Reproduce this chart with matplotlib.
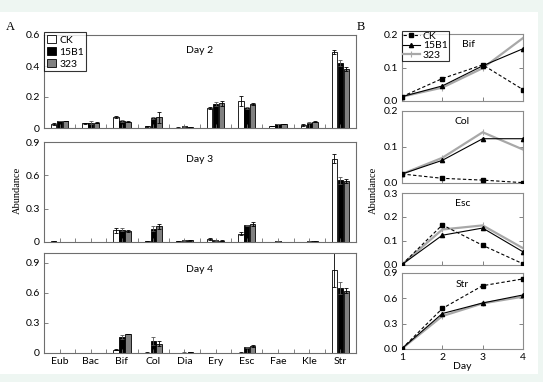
import matplotlib
matplotlib.use("Agg")
import matplotlib.pyplot as plt
from matplotlib.patches import Rectangle
import numpy as np

W, H = 543, 382

taxa = ["Eub", "Bac", "Bif", "Col", "Dia", "Ery", "Esc", "Fae", "Kle", "Str"]
groups = ["CK", "15B1", "323"]

# panel A: relative abundance per taxon (CK, 15B1, 323)
day2_ck   = [0.025, 0.030, 0.070, 0.010, 0.003, 0.130, 0.175, 0.013, 0.020, 0.490]
day2_b1   = [0.045, 0.035, 0.045, 0.065, 0.010, 0.155, 0.130, 0.025, 0.035, 0.420]
day2_323  = [0.045, 0.035, 0.040, 0.070, 0.008, 0.160, 0.155, 0.025, 0.040, 0.380]
day2_ck_err  = [0.006, 0.003, 0.006, 0.004, 0.001, 0.005, 0.030, 0.003, 0.004, 0.015]
day2_b1_err  = [0.003, 0.008, 0.004, 0.006, 0.001, 0.012, 0.005, 0.002, 0.003, 0.020]
day2_323_err = [0.003, 0.004, 0.003, 0.035, 0.001, 0.015, 0.008, 0.002, 0.002, 0.015]

day3_ck   = [0.005, 0.003, 0.105, 0.005, 0.005, 0.025, 0.075, 0.003, 0.003, 0.750]
day3_b1   = [0.003, 0.002, 0.110, 0.120, 0.015, 0.015, 0.150, 0.008, 0.005, 0.555]
day3_323  = [0.003, 0.002, 0.102, 0.140, 0.015, 0.013, 0.165, 0.003, 0.005, 0.550]
day3_ck_err  = [0.002, 0.001, 0.020, 0.002, 0.002, 0.008, 0.012, 0.001, 0.001, 0.040]
day3_b1_err  = [0.001, 0.001, 0.015, 0.020, 0.002, 0.002, 0.005, 0.002, 0.001, 0.030]
day3_323_err = [0.001, 0.001, 0.008, 0.020, 0.002, 0.002, 0.018, 0.001, 0.001, 0.015]

day4_ck   = [0.003, 0.003, 0.035, 0.005, 0.003, 0.003, 0.005, 0.003, 0.003, 0.830]
day4_b1   = [0.003, 0.003, 0.157, 0.123, 0.005, 0.003, 0.057, 0.003, 0.003, 0.650]
day4_323  = [0.003, 0.003, 0.190, 0.093, 0.008, 0.003, 0.073, 0.003, 0.003, 0.623]
day4_ck_err  = [0.001, 0.001, 0.008, 0.002, 0.001, 0.001, 0.002, 0.001, 0.001, 0.170]
day4_b1_err  = [0.001, 0.001, 0.020, 0.040, 0.001, 0.001, 0.005, 0.001, 0.001, 0.060]
day4_323_err = [0.001, 0.001, 0.003, 0.025, 0.002, 0.001, 0.012, 0.001, 0.001, 0.025]

# panel B: time course for four taxa
days = [1, 2, 3, 4]
bif_ck  = [0.013, 0.067, 0.108, 0.034]
bif_b1  = [0.013, 0.045, 0.105, 0.156]
bif_323 = [0.013, 0.040, 0.098, 0.188]
col_ck  = [0.025, 0.013, 0.008, 0.001]
col_b1  = [0.025, 0.063, 0.123, 0.123]
col_323 = [0.025, 0.070, 0.141, 0.093]
esc_ck  = [0.002, 0.167, 0.082, 0.005]
esc_b1  = [0.002, 0.124, 0.154, 0.055]
esc_323 = [0.002, 0.148, 0.165, 0.070]
str_ck  = [0.005, 0.480, 0.750, 0.830]
str_b1  = [0.005, 0.420, 0.545, 0.640]
str_323 = [0.005, 0.390, 0.540, 0.620]

tick_font = "Lato"
serif_font = "Liberation Serif"
spine_col = "#6e6e6e"


def add_ax(fig, left, top, right, bottom):
    return fig.add_axes([left / W, 1 - bottom / H, (right - left) / W, (bottom - top) / H])


def style(ax):
    for s in ax.spines.values():
        s.set_color(spine_col)
        s.set_linewidth(0.8)
    ax.tick_params(direction="in", length=3, width=0.6, color=spine_col,
                   labelsize=7.5, pad=3)
    for lab in ax.get_xticklabels() + ax.get_yticklabels():
        lab.set_fontfamily(tick_font)


fig = plt.figure(figsize=(W / 100, H / 100), dpi=100)
fig.patch.set_facecolor("#eef6f2")
fig.patches.append(Rectangle((0, 8 / H), 538 / W, (372 - 10) / H,
                             transform=fig.transFigure, facecolor="white",
                             edgecolor="none", zorder=-10))

# ---------- A ----------
panelsA = [
    ("Day 2", day2_ck, day2_b1, day2_323, day2_ck_err, day2_b1_err, day2_323_err,
     (35, 128), 0.6, [0, 0.2, 0.4, 0.6], ["0", "0.2", "0.4", "0.6"]),
    ("Day 3", day3_ck, day3_b1, day3_323, day3_ck_err, day3_b1_err, day3_323_err,
     (142, 242), 0.9, [0, 0.3, 0.6, 0.9], ["0", "0.3", "0.6", "0.9"]),
    ("Day 4", day4_ck, day4_b1, day4_323, day4_ck_err, day4_b1_err, day4_323_err,
     (253, 353), 1.0, [0, 0.3, 0.6, 0.9], ["0", "0.3", "0.6", "0.9"]),
]
x = np.arange(len(taxa))
bw = 0.17
off = 0.19
axesA = []
for i, (title, ck, b1, g3, eck, eb1, eg3, (t, b), ymax, yt, ytl) in enumerate(panelsA):
    ax = add_ax(fig, 44, t, 356, b)
    ekw = dict(elinewidth=0.6, capsize=1.5, capthick=0.6, ecolor="black")
    ax.bar(x - off, ck, bw, color="white", edgecolor="black", linewidth=0.6,
           yerr=eck, error_kw=ekw, label="CK")
    ax.bar(x, b1, bw, color="black", edgecolor="black", linewidth=0.6,
           yerr=eb1, error_kw=dict(ekw, ecolor="#555555"), label="15B1")
    ax.bar(x + off, g3, bw, color="#808080", edgecolor="black", linewidth=0.6,
           yerr=eg3, error_kw=ekw, label="323")
    ax.set_xlim(-0.5, len(taxa) - 0.5)
    ax.set_ylim(0, ymax)
    ax.set_yticks(yt)
    ax.set_yticklabels(ytl)
    ax.set_xticks(x)
    ax.set_xticks(np.arange(0.5, len(taxa) - 0.5, 1), minor=True)
    ax.tick_params(axis="x", which="major", length=0)
    ax.tick_params(axis="x", which="minor", direction="in", length=3, width=0.6,
                   color=spine_col)
    if i == 2:
        ax.set_xticklabels(taxa)
    else:
        ax.set_xticklabels([])
    style(ax)
    ax.text(0.5, 0.83, title, transform=ax.transAxes, ha="center", va="center",
            fontsize=7.5, fontfamily=tick_font)
    axesA.append(ax)

leg = axesA[0].legend(loc="upper left", bbox_to_anchor=(0.0, 1.03), fontsize=7.5,
                      frameon=True, fancybox=False, handlelength=0.9,
                      handleheight=0.9, handletextpad=0.3, borderpad=0.25,
                      labelspacing=0.2, borderaxespad=0)
leg.get_frame().set_edgecolor("black")
leg.get_frame().set_linewidth(0.8)
for txt in leg.get_texts():
    txt.set_fontfamily(tick_font)

fig.text(10 / W, 1 - 27 / H, "A", fontsize=9, fontfamily=serif_font,
         ha="center", va="center")
fig.text(17 / W, 1 - 190 / H, "Abundance", fontsize=7.5, fontfamily=serif_font,
         rotation=90, ha="center", va="center")

# ---------- B ----------
panelsB = [
    ("Bif", bif_ck, bif_b1, bif_323, (34, 101), 0.2, [0, 0.1, 0.2], ["0.0", "0.1", "0.2"], (0.55, 0.85)),
    ("Col", col_ck, col_b1, col_323, (111, 183), 0.2, [0, 0.1, 0.2], ["0.0", "0.1", "0.2"], (0.5, 0.85)),
    ("Esc", esc_ck, esc_b1, esc_323, (193, 265), 0.3, [0, 0.1, 0.2, 0.3], ["0.0", "0.1", "0.2", "0.3"], (0.5, 0.85)),
    ("Str", str_ck, str_b1, str_323, (273, 349), 0.9, [0, 0.3, 0.6, 0.9], ["0.0", "0.3", "0.6", "0.9"], (0.5, 0.85)),
]
axesB = []
for i, (name, ck, b1, g3, (t, b), ymax, yt, ytl, tpos) in enumerate(panelsB):
    ax = add_ax(fig, 402, t, 523, b)
    ax.plot(days, g3, color="#a8a8a8", lw=1.6, marker="|", ms=4, mew=0.8,
            label="323", zorder=2)
    ax.plot(days, b1, color="black", lw=0.8, marker="^", ms=3, label="15B1", zorder=3)
    ax.plot(days, ck, color="black", lw=0.8, ls=(0, (3, 2)), marker="s", ms=3,
            label="CK", zorder=4)
    ax.set_xlim(1, 4)
    ax.set_ylim(0, ymax)
    ax.set_yticks(yt)
    ax.set_yticklabels(ytl)
    ax.set_xticks(days)
    ax.tick_params(right=True)
    if i == 3:
        ax.set_xticklabels([str(d) for d in days])
        ax.set_xlabel("Day", fontsize=7.5, fontfamily=tick_font, labelpad=0)
    else:
        ax.set_xticklabels([])
    style(ax)
    for s in ax.spines.values():
        s.set_color("#8c8c8c")
    ax.text(tpos[0], tpos[1], name, transform=ax.transAxes, ha="center",
            va="center", fontsize=7.5, fontfamily=tick_font)
    axesB.append(ax)

h, l = axesB[0].get_legend_handles_labels()
legB = axesB[0].legend(h[::-1], l[::-1], loc="upper left", bbox_to_anchor=(0.0, 1.05),
                       fontsize=7.5, frameon=True, fancybox=False, handlelength=1.6,
                       handletextpad=0.3, borderpad=0.1, labelspacing=0.02,
                       borderaxespad=0)
legB.get_frame().set_edgecolor("black")
legB.get_frame().set_linewidth(0.8)
for txt in legB.get_texts():
    txt.set_fontfamily(tick_font)

fig.text(361 / W, 1 - 27 / H, "B", fontsize=9, fontfamily=serif_font,
         ha="center", va="center")
fig.text(373 / W, 1 - 190 / H, "Abundance", fontsize=7.5, fontfamily=serif_font,
         rotation=90, ha="center", va="center")

fig.savefig("out.png", dpi=100, facecolor=fig.get_facecolor())
